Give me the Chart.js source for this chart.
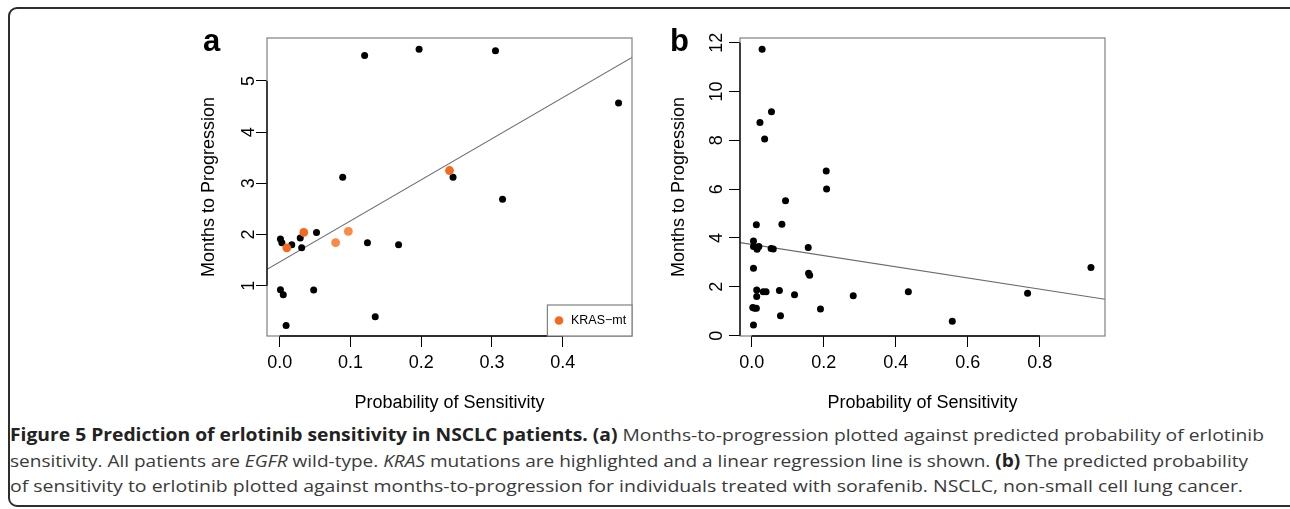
<!DOCTYPE html>
<html>
<head>
<meta charset="utf-8">
<script src="https://cdn.jsdelivr.net/npm/chart.js@4.4.1/dist/chart.umd.min.js"></script>
<style>
  html, body { margin: 0; padding: 0; background: #fff; width: 1290px; height: 509px; overflow: hidden; }
  #frame { position: absolute; left: 8px; top: 7px; width: 1300px; height: 500px; box-sizing: border-box; border: 2px solid #2e2e2e; border-radius: 9px; }
  canvas { position: absolute; top: 0; }
  .letter { position: absolute; font: bold 31px 'Liberation Sans', Arial, sans-serif; line-height: 31px; color: #000; }
  #caption { position: absolute; left: 10px; top: 422px; font-family: 'Open Sans', sans-serif; font-size: 17px; line-height: 25.5px; color: #3a3a3a; }
  #caption div { white-space: nowrap; transform-origin: 0 0; width: max-content; }
  #caption b { color: #222; }
</style>
</head>
<body>
<div id="frame"></div>
<canvas id="chart-a" width="480" height="420" style="left:170px"></canvas>
<canvas id="chart-b" width="480" height="420" style="left:650px"></canvas>
<div class="letter" style="left:203px; top:25px">a</div>
<div class="letter" style="left:670px; top:25px">b</div>
<div id="caption">
  <div data-w="1254"><b>Figure 5 Prediction of erlotinib sensitivity in NSCLC patients. (a)</b> Months-to-progression plotted against predicted probability of erlotinib</div>
  <div data-w="1238">sensitivity. All patients are <i>EGFR</i> wild-type. <i>KRAS</i> mutations are highlighted and a linear regression line is shown. <b>(b)</b> The predicted probability</div>
  <div data-w="1233">of sensitivity to erlotinib plotted against months-to-progression for individuals treated with sorafenib. NSCLC, non-small cell lung cancer.</div>
</div>
<script>
// Panel a: erlotinib, all patients
const aBlackX = [0.120, 0.197, 0.305, 0.479, 0.089, 0.245, 0.315, 0.052, 0.001, 0.003,
                 0.017, 0.029, 0.031, 0.124, 0.168, 0.001, 0.005, 0.048, 0.135, 0.009]
const aBlackY = [5.50, 5.62, 5.59, 4.57, 3.12, 3.12, 2.69, 2.04, 1.91, 1.84,
                 1.80, 1.93, 1.74, 1.84, 1.80, 0.92, 0.82, 0.915, 0.39, 0.22]
// KRAS mutants
const krasX = [0.010, 0.034, 0.079, 0.097, 0.240]
const krasY = [1.74, 2.04, 1.84, 2.06, 3.25]
// regression line end points (at the plot edges)
const aLineX = [-0.018, 0.498]
const aLineY = [1.32, 5.46]
const aXTicks = [0, 0.1, 0.2, 0.3, 0.4]
const aYTicks = [1, 2, 3, 4, 5]

// Panel b: sorafenib
const bX = [0.029, 0.055, 0.023, 0.036, 0.207, 0.208, 0.094, 0.013, 0.084, 0.005,
            0.005, 0.012, 0.020, 0.015, 0.054, 0.060, 0.157, 0.005, 0.158, 0.161,
            0.014, 0.032, 0.040, 0.077, 0.014, 0.119, 0.282, 0.435, 0.003, 0.008,
            0.013, 0.080, 0.191, 0.005, 0.766, 0.942, 0.557]
const bY = [11.73, 9.17, 8.73, 8.05, 6.74, 6.01, 5.52, 4.54, 4.56, 3.88,
            3.65, 3.62, 3.65, 3.54, 3.57, 3.55, 3.61, 2.76, 2.56, 2.47,
            1.87, 1.80, 1.80, 1.85, 1.60, 1.68, 1.63, 1.80, 1.15, 1.12,
            1.12, 0.82, 1.09, 0.44, 1.74, 2.79, 0.59]
const bLineX = [-0.032, 0.981]
const bLineY = [3.81, 1.49]
const bXTicks = [0, 0.2, 0.4, 0.6, 0.8]
const bYTicks = [0, 2, 4, 6, 8, 10, 12]

const xTitle = 'Probability of Sensitivity'
const yTitle = 'Months to Progression'
const legendLabel = 'KRAS\u2212mt'

Chart.defaults.font.family = "'Liberation Sans', Arial, sans-serif"
Chart.defaults.color = '#000'

function toPoints(xs, ys) {
  return xs.map((x, i) => ({ x: x, y: ys[i] }))
}

// R-style box + axis lines that run only between the first and last tick
const rAxes = {
  id: 'rAxes',
  afterDraw(chart, args, opts) {
    const ctx = chart.ctx
    const a = chart.chartArea
    const xs = chart.scales.x
    const ys = chart.scales.y
    ctx.save()
    ctx.strokeStyle = '#808080'
    ctx.lineWidth = 1.2
    ctx.strokeRect(a.left, a.top, a.right - a.left, a.bottom - a.top)

    ctx.strokeStyle = '#000'
    ctx.lineWidth = 1.3
    ctx.beginPath()
    ctx.moveTo(xs.getPixelForValue(xs.ticks[0].value), a.bottom)
    ctx.lineTo(xs.getPixelForValue(xs.ticks[xs.ticks.length - 1].value), a.bottom)
    ctx.moveTo(a.left, ys.getPixelForValue(ys.ticks[0].value))
    ctx.lineTo(a.left, ys.getPixelForValue(ys.ticks[ys.ticks.length - 1].value))
    ctx.stroke()

    if (opts.legend) {
      const w = 84.6, h = 31
      ctx.fillStyle = '#fff'
      ctx.fillRect(a.right - w, a.bottom - h, w, h)
      ctx.strokeStyle = '#808080'
      ctx.lineWidth = 1.2
      ctx.strokeRect(a.right - w, a.bottom - h, w, h)
      ctx.fillStyle = '#f26a1e'
      ctx.beginPath()
      ctx.arc(a.right - 73, a.bottom - 15.5, 4.3, 0, Math.PI * 2)
      ctx.fill()
      ctx.fillStyle = '#000'
      ctx.font = "12.5px 'Liberation Sans', Arial, sans-serif"
      ctx.textBaseline = 'middle'
      ctx.textAlign = 'left'
      ctx.fillText(legendLabel, a.right - 61, a.bottom - 15)
    }
    ctx.restore()
  }
}

function makeScales(cfg) {
  const font = { size: 18 }
  return {
    x: {
      type: 'linear',
      min: cfg.xMin,
      max: cfg.xMax,
      afterBuildTicks: s => { s.ticks = cfg.xTicks.map(v => ({ value: v })) },
      afterFit: s => { s.height = 84 },
      grid: { drawOnChartArea: false, drawTicks: true, tickLength: 11, color: '#000', lineWidth: 1 },
      border: { display: false },
      ticks: { font: font, color: '#000', padding: 5, maxRotation: 0, autoSkip: false,
               callback: v => v.toFixed(1) },
      title: { display: true, text: xTitle, font: font, color: '#000', padding: { top: 0, bottom: 6 } }
    },
    y: {
      type: 'linear',
      min: cfg.yMin,
      max: cfg.yMax,
      afterBuildTicks: s => { s.ticks = cfg.yTicks.map(v => ({ value: v })) },
      afterFit: s => { s.width = cfg.yWidth },
      grid: { drawOnChartArea: false, drawTicks: true, tickLength: 11, color: '#000', lineWidth: 1 },
      border: { display: false },
      ticks: { font: font, color: '#000', padding: cfg.yTickPad, minRotation: 90, maxRotation: 90,
               crossAlign: 'center', autoSkip: false, callback: v => String(v) },
      title: { display: true, text: yTitle, font: font, color: '#000', padding: { top: cfg.yTitlePad, bottom: 0 } }
    }
  }
}

function baseOptions(cfg, legend) {
  return {
    responsive: false,
    animation: false,
    layout: { padding: { left: 0, top: 38, right: cfg.padRight, bottom: 0 } },
    plugins: {
      legend: { display: false },
      tooltip: { enabled: false },
      rAxes: { legend: legend }
    },
    scales: makeScales(cfg)
  }
}

new Chart(document.getElementById('chart-a'), {
  type: 'scatter',
  data: {
    datasets: [
      {
        label: legendLabel,
        data: toPoints(krasX, krasY),
        pointRadius: 4.4,
        pointBorderWidth: 0,
        backgroundColor: ['#f26a1e', '#f26a1e', '#fb8a45', '#fb8a45', '#f26a1e']
      },
      {
        label: 'wild-type',
        data: toPoints(aBlackX, aBlackY),
        pointRadius: 3.5,
        pointBorderWidth: 0,
        backgroundColor: '#000'
      },
      {
        label: 'fit',
        data: toPoints(aLineX, aLineY),
        showLine: true,
        pointRadius: 0,
        borderColor: '#6a6a6a',
        borderWidth: 1.1
      }
    ]
  },
  options: baseOptions({
    xMin: -0.018, xMax: 0.498, yMin: 0.016, yMax: 5.84,
    xTicks: aXTicks, yTicks: aYTicks,
    yWidth: 97, yTickPad: 2, yTitlePad: 28, padRight: 18
  }, true),
  plugins: [rAxes]
})

new Chart(document.getElementById('chart-b'), {
  type: 'scatter',
  data: {
    datasets: [
      {
        label: 'sorafenib',
        data: toPoints(bX, bY),
        pointRadius: 3.5,
        pointBorderWidth: 0,
        backgroundColor: '#000'
      },
      {
        label: 'fit',
        data: toPoints(bLineX, bLineY),
        showLine: true,
        pointRadius: 0,
        borderColor: '#6a6a6a',
        borderWidth: 1.1
      }
    ]
  },
  options: baseOptions({
    xMin: -0.0324, xMax: 0.981, yMin: -0.014, yMax: 12.19,
    xTicks: bXTicks, yTicks: bYTicks,
    yWidth: 90, yTickPad: 2, yTitlePad: 18.5, padRight: 25
  }, false),
  plugins: [rAxes]
})

// squeeze each caption line to the width it has in the figure
function fitCaption() {
  document.querySelectorAll('#caption div').forEach(el => {
    el.style.transform = 'none'
    const w = el.getBoundingClientRect().width
    el.style.transform = 'scaleX(' + (Number(el.dataset.w) / w) + ')'
  })
}
fitCaption()
if (document.fonts) document.fonts.ready.then(fitCaption)
</script>
</body>
</html>
